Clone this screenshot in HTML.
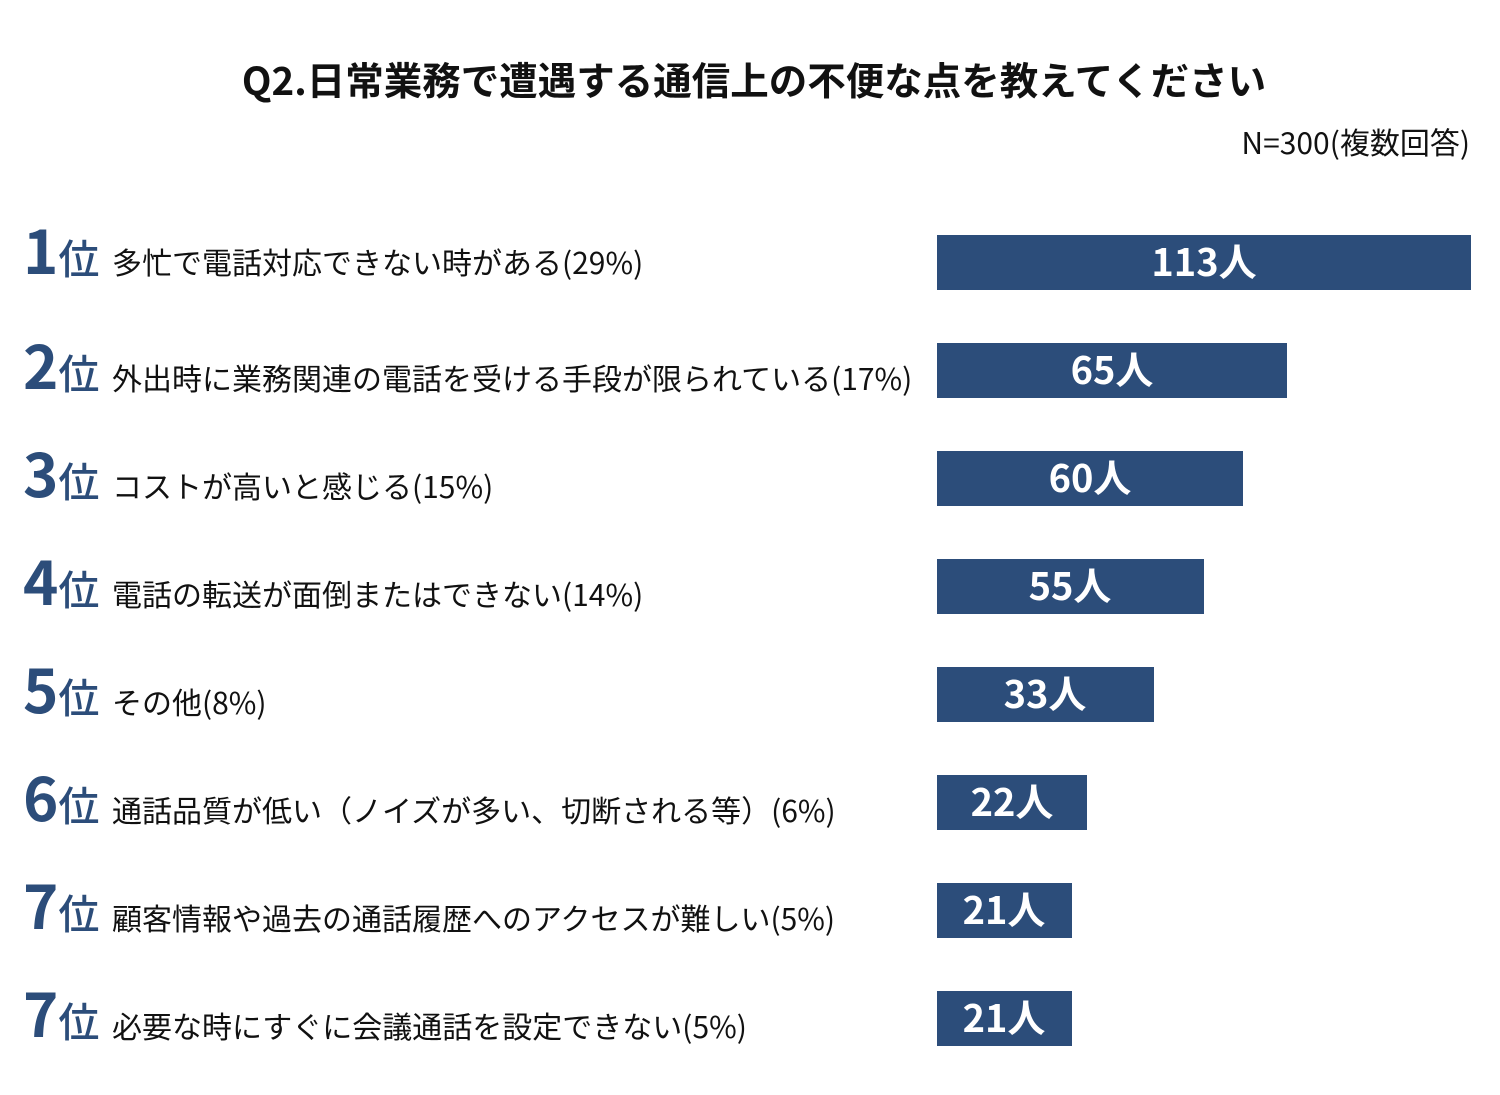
<!DOCTYPE html>
<html><head><meta charset="utf-8"><style>
html,body{margin:0;padding:0;background:#fff;}
svg{display:block;}
text{font-family:"Noto Sans CJK JP",sans-serif;}
</style></head><body>
<svg width="1500" height="1095" viewBox="0 0 1500 1095">
<text x="754" y="95" text-anchor="middle" font-size="38.5" font-weight="bold" fill="#111">Q2.日常業務で遭遇する通信上の不便な点を教えてください</text>
<text x="1470" y="154" text-anchor="end" font-size="30" fill="#111">N=300(複数回答)</text>
<g fill="#2c4d7a">
<rect x="937" y="235" width="534" height="55"/>
<rect x="937" y="343" width="350" height="55"/>
<rect x="937" y="451" width="306" height="55"/>
<rect x="937" y="559" width="267" height="55"/>
<rect x="937" y="667" width="217" height="55"/>
<rect x="937" y="775" width="150" height="55"/>
<rect x="937" y="883" width="135" height="55"/>
<rect x="937" y="991" width="135" height="55"/>
</g>
<g fill="#fff" font-size="38" font-weight="bold" text-anchor="middle">
<text x="1204" y="276">113人</text>
<text x="1112" y="384">65人</text>
<text x="1090" y="492">60人</text>
<text x="1070" y="600">55人</text>
<text x="1045" y="708">33人</text>
<text x="1012" y="816">22人</text>
<text x="1004" y="924">21人</text>
<text x="1004" y="1032">21人</text>
</g>
<g fill="#2c4d7a" font-weight="bold">
<text x="23" y="274" font-size="60">1<tspan font-size="41" font-weight="500">位</tspan></text>
<text x="23" y="389" font-size="60">2<tspan font-size="41" font-weight="500">位</tspan></text>
<text x="23" y="497" font-size="60">3<tspan font-size="41" font-weight="500">位</tspan></text>
<text x="23" y="605" font-size="60">4<tspan font-size="41" font-weight="500">位</tspan></text>
<text x="23" y="713" font-size="60">5<tspan font-size="41" font-weight="500">位</tspan></text>
<text x="23" y="821" font-size="60">6<tspan font-size="41" font-weight="500">位</tspan></text>
<text x="23" y="929" font-size="60">7<tspan font-size="41" font-weight="500">位</tspan></text>
<text x="23" y="1037" font-size="60">7<tspan font-size="41" font-weight="500">位</tspan></text>
</g>
<g fill="#111" font-size="30">
<text x="112" y="274">多忙で電話対応できない時がある(29%)</text>
<text x="112" y="390">外出時に業務関連の電話を受ける手段が限られている(17%)</text>
<text x="112" y="498">コストが高いと感じる(15%)</text>
<text x="112" y="606">電話の転送が面倒またはできない(14%)</text>
<text x="112" y="714">その他(8%)</text>
<text x="112" y="822">通話品質が低い（ノイズが多い、切断される等）(6%)</text>
<text x="112" y="930">顧客情報や過去の通話履歴へのアクセスが難しい(5%)</text>
<text x="112" y="1038">必要な時にすぐに会議通話を設定できない(5%)</text>
</g>
</svg>
</body></html>
